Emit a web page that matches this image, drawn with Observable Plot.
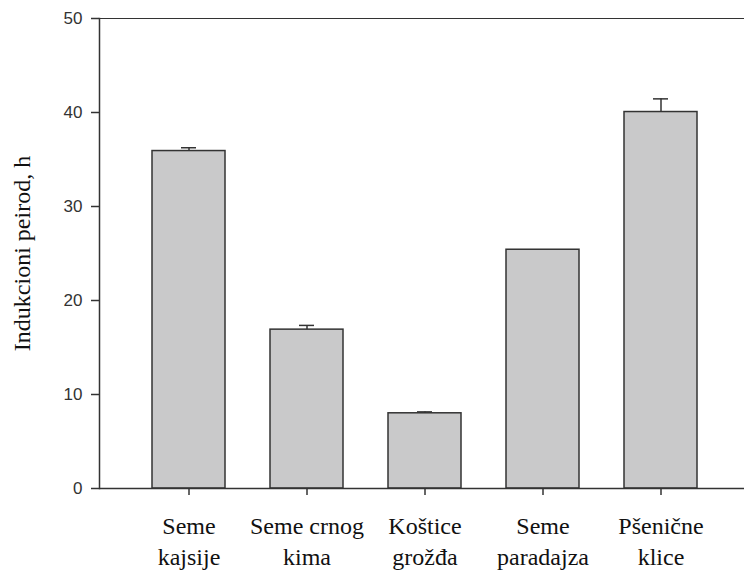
<!DOCTYPE html>
<html>
<head>
<meta charset="utf-8">
<script src="https://cdn.jsdelivr.net/npm/d3@7"></script>
<script src="https://cdn.jsdelivr.net/npm/@observablehq/plot@0.6"></script>
<style>
  html, body { margin: 0; padding: 0; background: #fff; }
  #chart { width: 744px; height: 572px; }
</style>
</head>
<body>
<div id="chart"></div>
<script>
const categories = ["Seme\nkajsije", "Seme crnog\nkima", "Koštice\ngrožđa", "Seme\nparadajza", "Pšenične\nklice"];
const values = [35.9, 16.9, 8.0, 25.4, 40.05];
const errors = [0.35, 0.45, 0.15, 0, 1.4];
const yTicks = [0, 10, 20, 30, 40, 50];
const yLabel = "Indukcioni peirod, h";

const SERIF = "'Liberation Serif', 'Times New Roman', serif";
const SANS = "'Liberation Sans', Arial, sans-serif";

const data = categories.map((c, i) => ({cat: c, value: values[i], err: errors[i], top: values[i] + errors[i]}));
const errData = data.filter(d => d.err > 0);

const chart = Plot.plot({
  width: 744,
  height: 572,
  marginTop: 18,
  marginBottom: 84,
  marginLeft: 99,
  marginRight: 0,
  style: {background: "#fff", overflow: "visible", fontFamily: SANS},
  x: {domain: categories, range: [151, 698], paddingInner: 0.383, paddingOuter: 0, label: null},
  y: {domain: [0, 50], label: null},
  marks: [
    Plot.ruleX(errData, {x: "cat", y1: "value", y2: "top", stroke: "#333", strokeWidth: 1.5}),
    Plot.tickY(errData, {x: "cat", y: "top", stroke: "#333", strokeWidth: 1.5, insetLeft: 29, insetRight: 29}),
    Plot.barY(data, {x: "cat", y: "value", fill: "#c9c9ca", stroke: "#333", strokeWidth: 1.5}),
    Plot.ruleY([0], {stroke: "#333", strokeWidth: 1.5}),
    Plot.ruleY([50], {stroke: "#333", strokeWidth: 1.2}),
    Plot.frame({anchor: "left", stroke: "#333", strokeWidth: 1.5}),
    Plot.axisY({ticks: yTicks, tickSize: 8, tickPadding: 9, fontSize: 17, fontFamily: SANS, color: "#333", stroke: "#333", strokeWidth: 1.5, label: null}),
    Plot.axisX({tickSize: 7, tickPadding: 16, fontSize: 24, lineHeight: 1.3, fontFamily: SERIF, color: "#111", stroke: "#333", strokeWidth: 1.5, label: null}),
    Plot.text([yLabel], {frameAnchor: "left", textAnchor: "middle", rotate: -90, dx: -77, fontSize: 24, fontFamily: SERIF, fill: "#111"})
  ]
});
document.getElementById("chart").appendChild(chart);
</script>
</body>
</html>
